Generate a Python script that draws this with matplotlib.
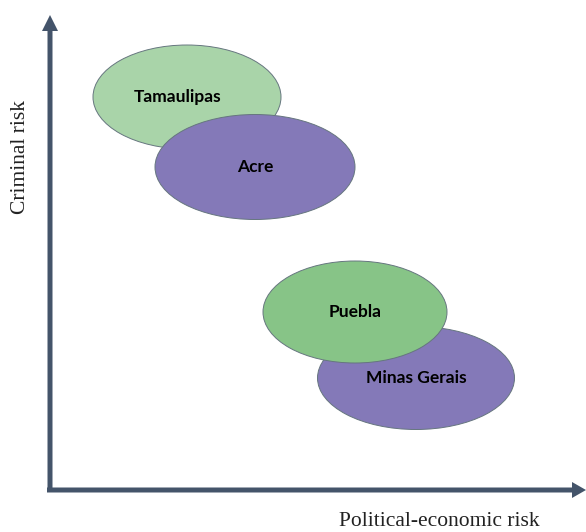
import matplotlib
matplotlib.use('Agg')
import matplotlib.pyplot as plt
from matplotlib.patches import Ellipse

# regions, positioned on (political-economic risk, criminal risk)
regions = ['Tamaulipas', 'Acre', 'Puebla', 'Minas Gerais']
pol_econ_risk = [137, 205, 305, 366]
criminal_risk = [393, 323, 178, 112]
fills = ['#a9d4a9', '#8479b8', '#87c487', '#8479b8']
draw_order = [0, 1, 3, 2]  # Puebla sits on top of Minas Gerais

ell_w = [188, 200, 184, 197]
ell_h = [104, 105, 102, 103]
axis_col = '#44546a'

fig = plt.figure(figsize=(5.86, 5.32), dpi=100)
ax = fig.add_axes([0, 0, 1, 1])
ax.set_xlim(-50, 536)
ax.set_ylim(-42, 490)
ax.axis('off')

for i in draw_order:
    e = Ellipse((pol_econ_risk[i], criminal_risk[i]), ell_w[i], ell_h[i],
                facecolor=fills[i], edgecolor='#66767f', lw=0.7)
    ax.add_patch(e)
    dx = -9 if i == 0 else 0
    ax.text(pol_econ_risk[i] + dx, criminal_risk[i], regions[i], ha='center', va='center',
            fontsize=12.5, fontweight='bold', family='Lato', color='black')

# axes arrows
ax.arrow(0, 0, 0, 475, width=5, head_width=16, head_length=16,
         length_includes_head=True, color=axis_col, lw=0)
ax.arrow(-3, 0, 539, 0, width=5, head_width=16, head_length=14,
         length_includes_head=True, color=axis_col, lw=0)

ax.text(-30, 333, 'Criminal risk', rotation=90, ha='center', va='center',
        family='Liberation Serif', fontsize=15.5, color='#222222')
ax.text(389, -31, 'Political-economic risk', ha='center', va='center',
        family='Liberation Serif', fontsize=15.5, color='#222222')

fig.savefig('out.png', dpi=100)
